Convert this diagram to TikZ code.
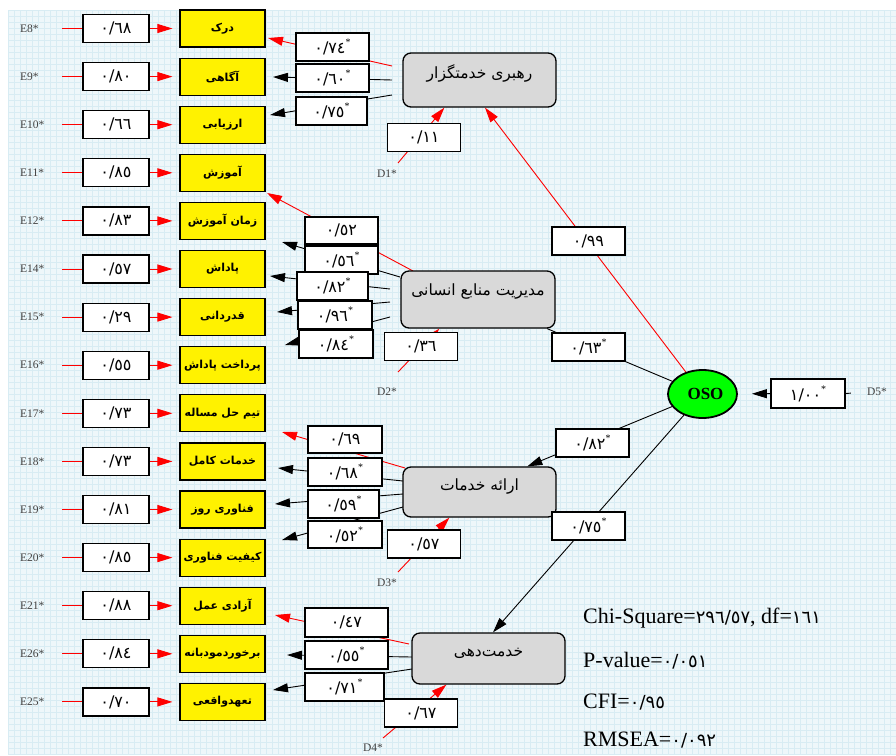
\documentclass[tikz,border=0pt]{standalone}
\usepackage{fontspec}
\setmainfont{Liberation Serif}
\newfontfamily\arabicfont[Script=Arabic]{DejaVu Sans}
\TeXXeTstate=1
\usetikzlibrary{arrows.meta,calc,shapes.geometric}
\pgfdeclarelayer{bg}
\pgfdeclarelayer{lines}
\pgfsetlayers{bg,lines,main}
\definecolor{bgblue}{HTML}{EEF7FA}
\definecolor{gridc}{HTML}{D8ECF3}
\definecolor{latgray}{HTML}{D9D9D9}
\definecolor{osogreen}{HTML}{00FF00}
\newcommand\ar[1]{{\arabicfont\beginR #1\endR}}
\newcommand\num[1]{{\arabicfont #1}}
\newcommand\sd[1]{{\arabicfont\fontsize{18}{18}\selectfont #1}}
\newcommand\sstar{\raisebox{0.5em}{\rmfamily\fontsize{10}{10}\selectfont *}}
\tikzset{
  elab/.style={anchor=west, text width=42pt, align=left, inner sep=0pt, font=\fontsize{11.5}{11.5}\selectfont, text=black!75},
  dlab/.style={inner sep=0pt, font=\fontsize{11.5}{11.5}\selectfont, text=black!75},
  vbox/.style={draw, line width=1.2pt, fill=white, minimum width=66pt, minimum height=28pt, inner sep=0pt, font=\fontsize{16}{16}\selectfont},
  lbox/.style={vbox, minimum width=73pt},
  ybox/.style={draw, line width=1.2pt, fill=yellow, minimum width=85pt, minimum height=37pt, inner sep=0pt, font=\fontsize{11}{12}\selectfont\bfseries},
  latbox/.style={draw, line width=1.3pt, fill=latgray, rounded corners=8pt, inner sep=0pt},
  lattext/.style={inner sep=0pt, font=\fontsize{15.5}{15.5}\selectfont},
  redline/.style={draw=red, line width=0.9pt},
  blkline/.style={draw=black, line width=0.9pt},
  redarr/.style={redline, -{Triangle[length=15pt,width=9pt]}},
  blkarr/.style={blkline, -{Triangle[length=15pt,width=9pt]}},
  stat/.style={anchor=west, inner sep=0pt, font=\fontsize{22}{22}\selectfont}
}
\begin{document}
\begin{tikzpicture}[x=1pt,y=-1pt]
\useasboundingbox (0,0) rectangle (896,755);
\begin{pgfonlayer}{bg}
  \fill[bgblue] (8,10) rectangle (896,755);
  \foreach \x in {8,14,...,896} \draw[gridc, line width=0.5pt] (\x,10) -- (\x,755);
  \foreach \y in {10,16,...,755} \draw[gridc, line width=0.5pt] (8,\y) -- (896,\y);
\end{pgfonlayer}

% left column
\foreach \i/\e/\v/\t in {0/E8/٦٨/درک, 1/E9/٨٠/آگاهی, 2/E10/٦٦/ارزیابی, 3/E11/٨٥/آموزش, 4/E12/٨٣/زمان آموزش, 5/E14/٥٧/پاداش, 6/E15/٢٩/قدردانی, 7/E16/٥٥/پرداخت پاداش, 8/E17/٧٣/تیم حل مساله, 9/E18/٧٣/خدمات کامل, 10/E19/٨١/فناوری روز, 11/E20/٨٥/کیفیت فناوری, 12/E21/٨٨/آزادی عمل, 13/E26/٨٤/برخوردمودبانه, 14/E25/٧٠/تعهدواقعی} {
  \pgfmathsetmacro\yy{28.5+48.1*\i}
  \node[elab] (e\i) at (20,\yy) {\e*};
  \node[vbox] (v\i) at (116,\yy) {\num{٠/\v}};
  \node[ybox] (y\i) at (222.5,\yy) {\ar{\t}};
}

% latent boxes
\node[latbox, minimum width=153pt, minimum height=54pt] (lat1) at (479.5,80) {};
\node[lattext] (lat1t) at (479.5,73) {\ar{رهبری خدمتگزار}};
\node[latbox, minimum width=154pt, minimum height=57pt] (lat2) at (478,299.5) {};
\node[lattext] (lat2t) at (478,291) {\ar{مدیریت منابع انسانی}};
\node[latbox, minimum width=153pt, minimum height=50pt] (lat3) at (479.5,492) {};
\node[lattext] (lat3t) at (479.5,486) {\ar{ارائه خدمات}};
\node[latbox, minimum width=153pt, minimum height=51pt] (lat4) at (488.5,658.5) {};
\node[lattext] (lat4t) at (488.5,653) {\ar{خدمت‌دهی}};

% OSO
\node[ellipse, draw, line width=1.8pt, fill=osogreen, minimum width=69pt, minimum height=48pt, inner sep=0pt, font=\fontsize{17}{17}\selectfont\bfseries] (oso) at (702.5,394) {\hspace{6pt}OSO};
\node[lbox, minimum width=74pt, minimum height=29pt] (d5b) at (808,393.5) {\num{١/٠٠}\sstar};
\node[dlab] (d5l) at (877,392) {D5*};

% disturbances
\node[dlab] (d1l) at (387,174) {D1*};
\node[dlab] (d2l) at (387,392) {D2*};
\node[dlab] (d3l) at (387,583) {D3*};
\node[dlab] (d4l) at (373,748) {D4*};
\coordinate (d1s) at (398,163);
\coordinate (d2s) at (398,372);
\coordinate (d3s) at (398,572);
\coordinate (d4s) at (383,738);
\node[lbox] (d1b) at (424,137.5) {\num{٠/١١}};
\node[lbox] (d2b) at (421,346.5) {\num{٠/٣٦}};
\node[lbox] (d3b) at (424,544) {\num{٠/٥٧}};
\node[lbox] (d4b) at (421,713) {\num{٠/٦٧}};

% path labels
\node[lbox] (p1) at (588.5,241) {\num{٠/٩٩}};
\node[lbox] (p2) at (588.5,347) {\num{٠/٦٣}\sstar};
\node[lbox] (p3) at (592.5,443) {\num{٠/٨٢}\sstar};
\node[lbox] (p4) at (588.5,526) {\num{٠/٧٥}\sstar};

% loading coordinates
\coordinate (a1s) at (392,66);  \coordinate (a1t) at (268,38);
\coordinate (a2s) at (392,80);  \coordinate (a2t) at (273,77);
\coordinate (a3s) at (392,95);  \coordinate (a3t) at (270,115);
\coordinate (b1s) at (413,271); \coordinate (b1t) at (267,193);
\coordinate (b2s) at (400,277); \coordinate (b2t) at (282,242);
\coordinate (b3s) at (390,289); \coordinate (b3t) at (270,276);
\coordinate (b4s) at (390,302); \coordinate (b4t) at (277,312);
\coordinate (b5s) at (390,317); \coordinate (b5t) at (285,345);
\coordinate (c1s) at (405,468); \coordinate (c1t) at (282,432);
\coordinate (c2s) at (403,481); \coordinate (c2t) at (278,468);
\coordinate (c3s) at (403,494); \coordinate (c3t) at (275,504);
\coordinate (c4s) at (403,507); \coordinate (c4t) at (282,540);
\coordinate (f1s) at (409,644); \coordinate (f1t) at (275,615);
\coordinate (f2s) at (412,657); \coordinate (f2t) at (287,655);
\coordinate (f3s) at (412,669); \coordinate (f3t) at (273,690);

% loading labels
\node[lbox] (g1a) at (332.5,47) {\num{٠/٧٤}\sstar};
\node[lbox] (g1b) at (332.5,78) {\num{٠/٦٠}\sstar};
\node[lbox, minimum width=71pt] (g1c) at (331.5,111) {\num{٠/٧٥}\sstar};
\node[lbox, minimum height=27pt] (g2a) at (341.5,230.5) {\num{٠/٥٢}};
\node[lbox] (g2b) at (341.5,260) {\num{٠/٥٦}\sstar};
\node[lbox, minimum width=71pt] (g2c) at (332.5,286) {\num{٠/٨٢}\sstar};
\node[lbox, minimum width=74pt] (g2d) at (335,315) {\num{٠/٩٦}\sstar};
\node[lbox, minimum width=74pt] (g2e) at (336,344) {\num{٠/٨٤}\sstar};
\node[lbox, minimum width=74pt, minimum height=27pt] (g3a) at (345,439.5) {\num{٠/٦٩}};
\node[lbox, minimum width=74pt] (g3b) at (345,472) {\num{٠/٦٨}\sstar};
\node[lbox, minimum width=71pt] (g3c) at (343.5,504) {\num{٠/٥٩}\sstar};
\node[lbox, minimum width=74pt, minimum height=27pt] (g3d) at (345,534.5) {\num{٠/٥٢}\sstar};
\node[lbox, minimum width=83pt, minimum height=29pt] (g4a) at (346.5,622.5) {\num{٠/٤٧}};
\node[lbox, minimum width=83pt] (g4b) at (346.5,655) {\num{٠/٥٥}\sstar};
\node[lbox, minimum width=79pt] (g4c) at (344.5,687) {\num{٠/٧١}\sstar};

% stats
\node[stat] (s1) at (583,618) {Chi-Square=\sd{٢٩٦/٥٧}, df=\sd{١٦١}};
\node[stat] (s2) at (583,661) {P-value=\sd{٠/٠٥١}};
\node[stat] (s3) at (583,702) {CFI=\sd{٠/٩٥}};
\node[stat] (s4) at (583,740) {RMSEA=\sd{٠/٠٩٢}};

\begin{pgfonlayer}{lines}
  \foreach \i in {0,...,14} {
    \draw[redline] (e\i.east) -- (v\i.west);
    \draw[redarr, shorten >=7pt] (v\i.east) -- (y\i.west);
  }
  \draw[redarr] (a1s) -- (a1t);
  \draw[blkarr] (a2s) -- (a2t);
  \draw[blkarr] (a3s) -- (a3t);
  \draw[redarr] (b1s) -- (b1t);
  \draw[blkarr] (b2s) -- (b2t);
  \draw[blkarr] (b3s) -- (b3t);
  \draw[blkarr] (b4s) -- (b4t);
  \draw[blkarr] (b5s) -- (b5t);
  \draw[redarr] (c1s) -- (c1t);
  \draw[blkarr] (c2s) -- (c2t);
  \draw[blkarr] (c3s) -- (c3t);
  \draw[blkarr] (c4s) -- (c4t);
  \draw[redarr] (f1s) -- (f1t);
  \draw[blkarr] (f2s) -- (f2t);
  \draw[blkarr] (f3s) -- (f3t);
  \draw[redarr] (d1s) -- ($(lat1.south west)+(42,0)$);
  \draw[redarr] (d2s) -- ($(lat2.south west)+(39,0)$);
  \draw[redarr] (d3s) -- ($(lat3.south west)+(47,0)$);
  \draw[redarr] (d4s) -- ($(lat4.south west)+(35,0)$);
  \draw[redarr] (oso) -- ($(lat1.south)+(5.5,0)$);
  \draw[blkline] (oso) -- (lat2);
  \draw[blkarr] (oso) -- ($(lat3.north west)+(125,0)$);
  \draw[blkarr] (oso) -- ($(lat4.north)+(4.5,0)$);
  \draw[blkarr, shorten >=14pt] (d5b) -- (oso);
  \draw[blkline, shorten <=16pt] (d5l.west) -- (d5b.east);
\end{pgfonlayer}
\end{tikzpicture}
\end{document}
